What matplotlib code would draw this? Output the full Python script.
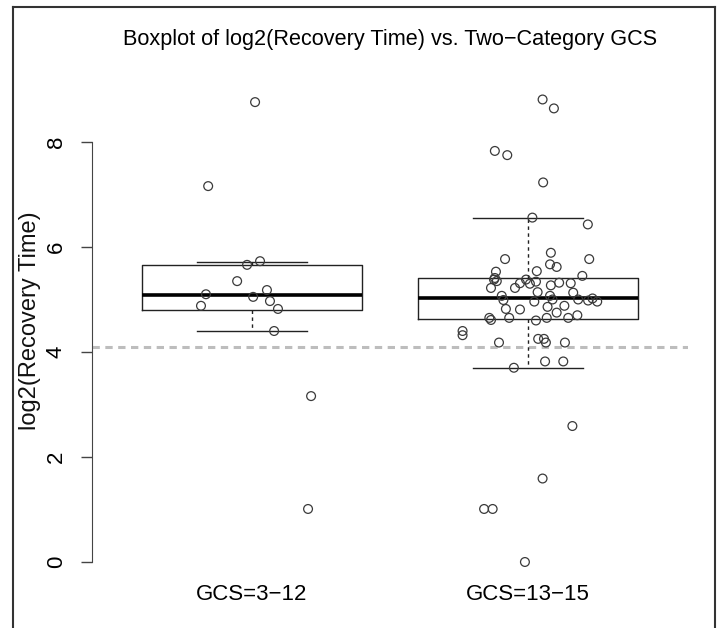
import matplotlib.pyplot as plt
from matplotlib.lines import Line2D

plt.rcParams['font.family'] = ['Liberation Sans', 'DejaVu Sans']

# categories
groups = ['GCS=3\u221212', 'GCS=13\u221215']

# box statistics (log2 recovery time)
q1 = [4.80, 4.63]
med = [5.09, 5.03]
q3 = [5.66, 5.41]
whis_lo = [4.40, 3.70]
whis_hi = [5.71, 6.56]

g1_vals = [8.76, 7.16, 5.66, 5.73, 5.35, 5.10, 5.05, 5.18, 4.97, 4.88, 4.82, 4.40, 3.16, 1.01]
g1_jit = [0.011, -0.159, -0.018, 0.029, -0.054, -0.167, 0.004, 0.054, 0.065, -0.185, 0.094, 0.080, 0.214, 0.203]

g2_vals = [8.81, 8.64, 7.83, 7.75, 7.23, 6.56, 6.43, 5.77, 5.89, 5.77, 5.67, 5.62, 5.53, 5.54,
           5.38, 5.35, 5.45, 5.38, 5.31, 5.30, 5.34, 5.22, 5.27, 5.32, 5.31, 5.22, 5.14, 5.13,
           5.07, 5.07, 4.99, 5.00, 4.96, 5.00, 4.98, 5.02, 4.96, 4.82, 4.81, 4.86, 4.88, 4.75,
           4.65, 4.61, 4.65, 4.60, 4.65, 4.65, 4.70, 4.40, 4.32, 4.18, 4.25, 4.25, 4.18, 4.18,
           3.82, 3.82, 3.70, 2.59, 1.59, 1.01, 1.01, 0.00, 5.41]
g2_jit = [0.053, 0.094, -0.120, -0.075, 0.055, 0.016, 0.217, -0.083, 0.083, 0.222, 0.080, 0.104, -0.116, 0.032,
          -0.123, -0.113, 0.197, -0.007, -0.029, 0.007, 0.029, -0.047, 0.083, 0.113, 0.155, -0.134, 0.035, 0.164,
          -0.095, 0.080, -0.089, 0.089, 0.023, 0.182, 0.218, 0.234, 0.251, -0.080, -0.029, 0.071, 0.132, 0.104,
          -0.140, -0.134, -0.068, 0.029, 0.068, 0.146, 0.179, -0.237, -0.237, -0.105, 0.037, 0.058, 0.065, 0.134,
          0.062, 0.128, -0.051, 0.161, 0.053, -0.159, -0.128, -0.011, -0.120]

ref_line = 4.1

fig = plt.figure(figsize=(7.17, 6.28), dpi=100)
ax = fig.add_axes([92 / 717, 1 - 580 / 628, (688 - 92) / 717, (580 - 82) / 628])

stats = []
for i in range(len(groups)):
    stats.append({'med': med[i], 'q1': q1[i], 'q3': q3[i],
                  'whislo': whis_lo[i], 'whishi': whis_hi[i], 'fliers': []})

ax.bxp(stats, positions=[1, 2], widths=0.8, capwidths=0.4, showfliers=False,
       boxprops=dict(color='#222222', lw=1.0),
       medianprops=dict(color='black', lw=2.6, solid_capstyle='butt'),
       whiskerprops=dict(color='#222222', lw=1.0, linestyle=(0, (2.5, 2.5))),
       capprops=dict(color='#222222', lw=1.0))

ax.axhline(ref_line, color='#bdbdbd', lw=2.2, linestyle=(0, (2.4, 1.8)), zorder=1)

for pos, vals, jit in [(1, g1_vals, g1_jit), (2, g2_vals, g2_jit)]:
    ax.scatter([pos + j for j in jit], vals, s=40, facecolors='none',
               edgecolors='#3a3a3a', linewidths=0.9, zorder=3)

ax.set_xlim(0.42, 2.58)
ax.set_ylim(-0.343, 9.143)

for s in ['top', 'right', 'bottom']:
    ax.spines[s].set_visible(False)
ax.spines['left'].set_bounds(0, 8)
ax.spines['left'].set_color('#444444')

ax.set_yticks([0, 2, 4, 6, 8])
ax.set_yticklabels(['0', '2', '4', '6', '8'], rotation=90, va='center', fontsize=16)
ax.tick_params(axis='y', length=8, width=1, color='#444444', pad=10)
ax.set_xticks([1, 2])
ax.set_xticklabels(groups, fontsize=16)
ax.tick_params(axis='x', length=0, pad=3)

ax.set_ylabel('log2(Recovery Time)', fontsize=17, va='center', color='#111111')
ax.yaxis.set_label_coords(-0.104, 0.52)
ax.set_title('Boxplot of log2(Recovery Time) vs. Two\u2212Category GCS', fontsize=15.6, pad=27)

# outer border of the picture
for xs, ys in [([13 / 717, 13 / 717], [0, 1 - 7 / 628]),
               ([13 / 717, 715 / 717], [1 - 7 / 628, 1 - 7 / 628]),
               ([715 / 717, 715 / 717], [0, 1 - 7 / 628])]:
    fig.add_artist(Line2D(xs, ys, transform=fig.transFigure, color='#333333', lw=1.5))

fig.savefig('out.png', dpi=100)
